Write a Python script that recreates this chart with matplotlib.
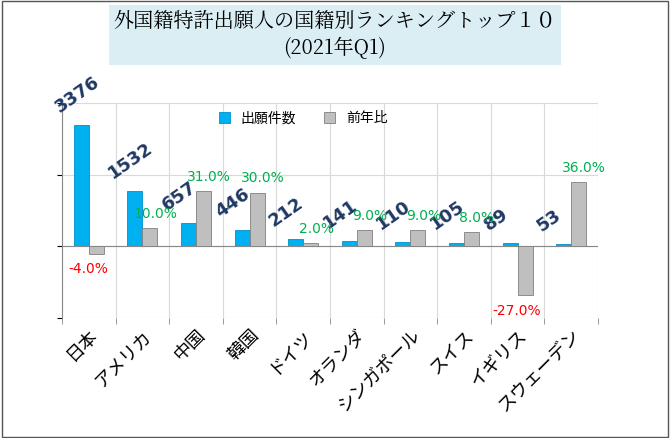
import numpy as np
import matplotlib.pyplot as plt
from matplotlib.patches import Rectangle

plt.rcParams['font.family'] = ['Noto Sans CJK JP', 'DejaVu Sans']

countries = ['日本', 'アメリカ', '中国', '韓国', 'ドイツ', 'オランダ', 'シンガポール', 'スイス', 'イギリス', 'スウェーデン']
counts = [3376, 1532, 657, 446, 212, 141, 110, 105, 89, 53]
yoy = [-4.0, 10.0, 31.0, 30.0, 2.0, 9.0, 9.0, 8.0, -27.0, 36.0]

fig = plt.figure(figsize=(6.7, 4.38), dpi=100)
fig.patches.append(Rectangle((0.003, 0.003), 0.994, 0.994, transform=fig.transFigure,
                             fill=False, edgecolor='#555555', lw=1))
fig.text(0.5, 0.92, '外国籍特許出願人の国籍別ランキングトップ１０\n(2021年Q1)',
         ha='center', va='center', fontsize=14.5, linespacing=1.3,
         family=['Noto Serif CJK JP', 'Noto Sans CJK JP', 'DejaVu Serif'],
         bbox=dict(boxstyle='square,pad=0.25', fc='#daeef3', ec='none'))

ax = fig.add_axes([62 / 670, 1 - 318 / 438, 536 / 670, 215 / 438])
ax2 = ax.twinx()
x = np.arange(len(countries))
w = 0.28
ax.bar(x - w / 2, counts, w, color='#00b0f0', edgecolor='#0090c8', lw=0.6, label='出願件数', zorder=3)
ax2.bar(x + w / 2, yoy, w, color='#bfbfbf', edgecolor='#808080', lw=0.6, label='前年比', zorder=3)
ax.set_ylim(-2000, 4000)
ax2.set_ylim(-40, 80)
ax.set_xlim(-0.5, len(countries) - 0.5)
ax.set_yticks([-2000, 0, 2000, 4000])
ax.set_yticklabels([])
ax2.set_yticks([])
ax.set_xticks(np.arange(len(countries) + 1) - 0.5, minor=True)
ax.set_xticks(x)
ax.set_xticklabels(countries, rotation=45, ha='right', rotation_mode='anchor', fontsize=13)
ax.tick_params(axis='x', which='major', length=0, pad=6)
ax.tick_params(axis='x', which='minor', length=4, color='#888888')
ax.grid(True, which='minor', axis='x', color='#d9d9d9', lw=0.8)
ax.grid(True, which='major', axis='y', color='#d9d9d9', lw=0.8)
ax.axhline(0, color='#888888', lw=0.8, zorder=4)
for s in ['top', 'right', 'bottom']:
    ax.spines[s].set_visible(False)
    ax2.spines[s].set_visible(False)
ax2.spines['left'].set_visible(False)
ax.spines['left'].set_color('#888888')

for xi, c in zip(x, counts):
    ax.text(xi - w - 0.22, c + 250, str(c), rotation=35, ha='left', va='bottom',
            rotation_mode='anchor', fontsize=13, fontweight='bold', color='#1f3864',
            family='DejaVu Sans', zorder=5)
for xi, v in zip(x, yoy):
    if v >= 0:
        ax2.text(xi + w / 2 + 0.1, v + 4, f'{v:.1f}%', ha='center', va='bottom', fontsize=10,
                 color='#00b050', family='DejaVu Sans', zorder=5)
    else:
        ax2.text(xi + w / 2 - 0.15, v - 5, f'{v:.1f}%', ha='center', va='top', fontsize=10,
                 color='red', family='DejaVu Sans', zorder=5)

h1, l1 = ax.get_legend_handles_labels()
h2, l2 = ax2.get_legend_handles_labels()
ax.legend(h1 + h2, l1 + l2, loc='upper center', bbox_to_anchor=(0.45, 1.02), ncol=2,
          frameon=False, fontsize=10, handlelength=0.8, handleheight=0.8, columnspacing=2)

plt.savefig('out.png', dpi=100)
